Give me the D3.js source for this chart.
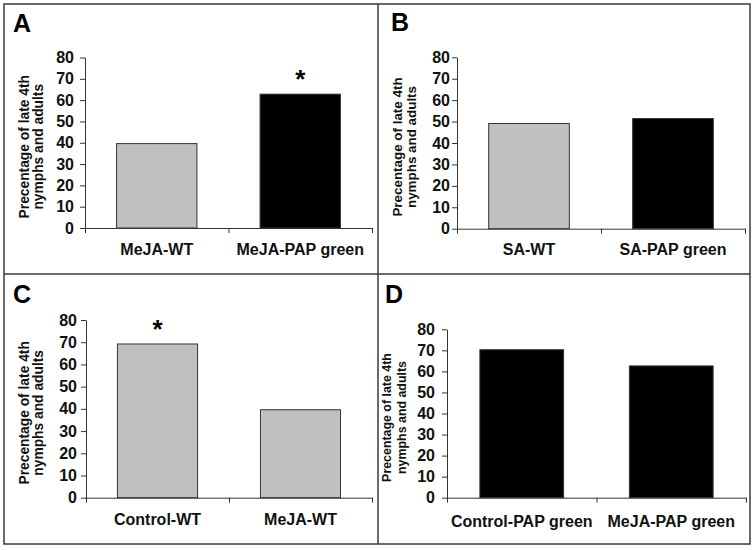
<!DOCTYPE html>
<html>
<head>
<meta charset="utf-8">
<script src="https://cdn.jsdelivr.net/npm/d3@7"></script>
<style>
  body { margin: 0; background: #fff; }
  svg { display: block; font-family: "Liberation Sans", Arial, sans-serif; }
</style>
</head>
<body>
<svg id="chart" width="755" height="550"></svg>
<script>
// ---- data ----
const panelKeys = ["A", "B", "C", "D"];
const categoriesA = ["MeJA-WT", "MeJA-PAP green"];
const valuesA = [39.6, 62.8];
const colorsA = ["gray", "black"];
const starsA = [false, true];

const categoriesB = ["SA-WT", "SA-PAP green"];
const valuesB = [49.1, 51.4];
const colorsB = ["gray", "black"];
const starsB = [false, false];

const categoriesC = ["Control-WT", "MeJA-WT"];
const valuesC = [69.2, 39.6];
const colorsC = ["gray", "gray"];
const starsC = [true, false];

const categoriesD = ["Control-PAP green", "MeJA-PAP green"];
const valuesD = [70.3, 62.6];
const colorsD = ["black", "black"];
const starsD = [false, false];

const yTicks = [0, 10, 20, 30, 40, 50, 60, 70, 80];
const yTitleLines = ["Precentage of late 4th", "nymphs and adults"];

// ---- layout ----
const fills = { gray: "#c0c0c0", black: "#000000" };
const layout = {
  A: { left: 85, right: 372, top: 57.5, bottom: 228, letter: [13, 32], title: [24.5, 38], titleSize: 13.8, labelY: 255, pad: 6 },
  B: { left: 457, right: 745, top: 57.3, bottom: 228.7, letter: [391, 31], title: [397, 411], titleSize: 13.4, labelY: 255, pad: 2 },
  C: { left: 86, right: 372, top: 320, bottom: 497.7, letter: [13, 303], title: [24.5, 38], titleSize: 13.8, labelY: 525, pad: 4 },
  D: { left: 447, right: 746, top: 329.3, bottom: 497.7, letter: [385, 303], title: [387, 402], titleSize: 12.4, labelY: 527, pad: 7 }
};
const panelData = {
  A: { cats: categoriesA, vals: valuesA, cols: colorsA, stars: starsA },
  B: { cats: categoriesB, vals: valuesB, cols: colorsB, stars: starsB },
  C: { cats: categoriesC, vals: valuesC, cols: colorsC, stars: starsC },
  D: { cats: categoriesD, vals: valuesD, cols: colorsD, stars: starsD }
};

const svg = d3.select("#chart");

// frame and dividers
svg.append("rect").attr("x", 4).attr("y", 4).attr("width", 746).attr("height", 540)
  .attr("fill", "none").attr("stroke", "#3a3a3a").attr("stroke-width", 1.5);
svg.append("line").attr("x1", 378).attr("x2", 378).attr("y1", 4).attr("y2", 544)
  .attr("stroke", "#3a3a3a").attr("stroke-width", 1.5);
svg.append("line").attr("x1", 4).attr("x2", 750).attr("y1", 274).attr("y2", 274)
  .attr("stroke", "#3a3a3a").attr("stroke-width", 1.5);

panelKeys.forEach(key => {
  const L = layout[key];
  const D = panelData[key];
  const g = svg.append("g");

  const y = d3.scaleLinear().domain([0, 80]).range([L.bottom, L.top]);
  const x = d3.scaleBand().domain(D.cats).range([L.left, L.right]).paddingInner(0.44).paddingOuter(0.22);
  const xb = d3.scaleLinear().domain([0, D.cats.length]).range([L.left, L.right]);

  // bars
  g.selectAll("rect.bar").data(D.cats).enter().append("rect")
    .attr("class", "bar")
    .attr("x", c => x(c))
    .attr("width", x.bandwidth())
    .attr("y", (c, i) => y(D.vals[i]))
    .attr("height", (c, i) => y(0) - y(D.vals[i]))
    .attr("fill", (c, i) => fills[D.cols[i]])
    .attr("stroke", "#333")
    .attr("stroke-width", 1);

  // stars
  g.selectAll("text.star").data(D.cats.filter((c, i) => D.stars[i])).enter().append("text")
    .attr("class", "star")
    .attr("x", c => x(c) + x.bandwidth() / 2)
    .attr("y", c => y(D.vals[D.cats.indexOf(c)]) - 6)
    .attr("text-anchor", "middle")
    .attr("font-size", 26).attr("font-weight", "bold")
    .text("*");

  // y axis
  const ya = g.append("g").attr("transform", `translate(${L.left},0)`)
    .call(d3.axisLeft(y).tickValues(yTicks).tickSizeInner(5).tickSizeOuter(0).tickPadding(L.pad));
  ya.selectAll("text").attr("font-size", 16).attr("font-weight", "bold")
    .attr("fill", "#111").attr("font-family", "Liberation Sans, Arial, sans-serif");
  ya.selectAll("line, path").attr("stroke", "#333");

  // x axis (ticks at band boundaries)
  const xa = g.append("g").attr("transform", `translate(0,${L.bottom})`)
    .call(d3.axisBottom(xb).tickValues(d3.range(D.cats.length + 1)).tickFormat("").tickSizeInner(5).tickSizeOuter(0));
  xa.selectAll("line, path").attr("stroke", "#333");

  // category labels
  g.selectAll("text.cat").data(D.cats).enter().append("text")
    .attr("class", "cat")
    .attr("x", c => x(c) + x.bandwidth() / 2)
    .attr("y", L.labelY)
    .attr("text-anchor", "middle")
    .attr("font-size", 16).attr("font-weight", "bold").attr("fill", "#111")
    .text(c => c);

  // y title
  const cy = (L.top + L.bottom) / 2 + 4;
  yTitleLines.forEach((line, i) => {
    g.append("text")
      .attr("transform", `translate(${L.title[i] + L.titleSize * 0.36},${cy}) rotate(-90)`)
      .attr("text-anchor", "middle")
      .attr("font-size", L.titleSize).attr("font-weight", "bold").attr("fill", "#111")
      .text(line);
  });

  // panel letter
  g.append("text").attr("x", L.letter[0]).attr("y", L.letter[1])
    .attr("font-size", 25).attr("font-weight", "bold").attr("fill", "#000")
    .text(key);
});
</script>
</body>
</html>
